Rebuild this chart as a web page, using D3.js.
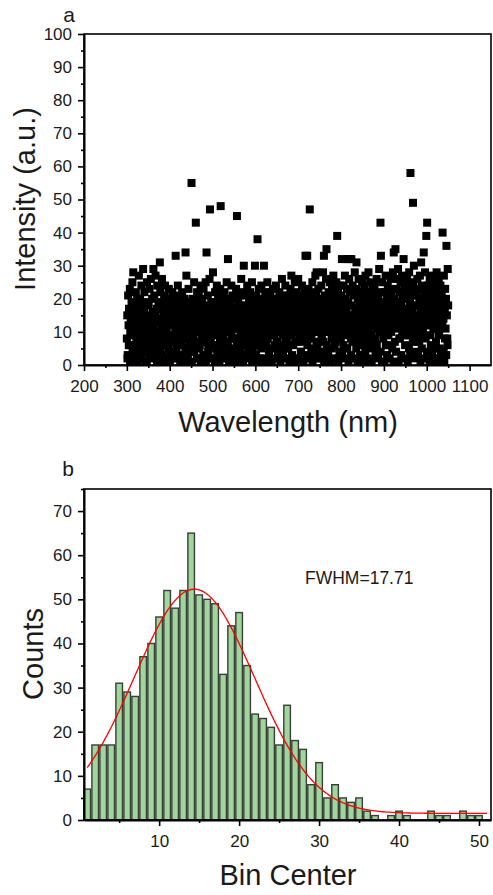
<!DOCTYPE html>
<html>
<head>
<meta charset="utf-8">
<script src="https://cdn.jsdelivr.net/npm/d3@7"></script>
<style>
body { margin: 0; background: #fff; }
text { font-family: Arial, "Liberation Sans", sans-serif; fill: #1a1a1a; }
</style>
</head>
<body>
<svg width="493" height="895"></svg>
<script>
// panel a: intensity sampled every 1 nm from 300 to 1050 nm
var intensity = [
  8,15,3,21,12,17,6,23,10,14,2,19,11,25,16,28,13,5,9,18,1,22,14,7,20,
  12,4,17,27,9,15,20,11,2,24,13,7,18,29,10,16,22,6,14,1,19,12,25,8,15,
  11,18,5,23,14,9,26,13,3,20,16,8,29,12,21,6,15,27,10,2,17,24,13,7,19,
  14,9,31,22,5,17,12,26,19,3,15,10,21,8,24,13,1,18,11,16,6,20,14,23,9,
  17,12,4,20,15,9,22,13,7,18,2,14,21,10,33,16,5,19,11,24,8,15,13,3,20,
  12,18,6,15,22,10,3,17,13,20,8,14,34,11,27,16,1,19,9,23,13,5,18,11,16,
  15,55,9,20,13,4,17,25,11,14,7,43,19,12,22,2,16,10,21,14,6,18,24,12,8,
  13,20,7,16,23,11,3,18,14,25,9,34,15,12,21,5,17,10,26,47,13,8,19,15,2,
  16,28,11,19,6,14,22,9,17,13,24,4,15,20,10,18,1,12,23,48,14,7,16,21,11,
  9,17,13,22,5,15,19,11,25,14,7,32,16,10,20,3,13,18,12,24,8,15,21,11,17,
  14,20,8,16,12,23,4,45,17,11,19,13,2,21,15,9,18,26,12,6,16,22,10,30,14,
  11,18,15,7,21,13,24,9,16,3,19,12,14,22,8,17,10,25,13,5,20,15,11,18,30,
  16,9,21,13,6,38,17,11,23,14,2,19,12,15,24,8,18,10,13,20,30,7,16,22,12,
  15,11,19,25,8,14,21,4,17,12,22,10,16,1,18,13,23,9,15,20,6,17,12,24,11,
  13,18,7,20,15,10,22,12,3,17,14,19,26,9,16,21,11,5,18,13,24,8,15,20,12,
  17,10,21,14,6,19,12,23,15,27,9,16,2,20,13,18,11,25,7,14,22,16,10,19,13,
  26,12,18,9,15,21,4,17,13,24,10,19,14,7,22,16,11,33,18,13,20,33,8,15,23,
  14,19,47,11,16,22,8,13,25,17,3,20,12,15,18,27,10,21,28,14,6,17,23,12,19,
  16,11,20,14,24,9,18,13,28,7,33,15,21,12,17,26,35,10,19,14,4,22,16,11,25,
  13,20,17,8,23,15,11,27,14,19,6,21,16,12,25,18,39,10,22,14,2,17,24,13,19,
  15,21,32,12,18,9,24,14,17,27,11,20,5,16,23,13,32,19,10,26,15,22,32,8,32,
  18,12,24,15,9,21,14,28,17,11,23,31,16,7,20,13,26,10,19,15,3,22,17,12,25,
  14,20,16,10,24,13,19,27,8,17,22,12,15,21,28,11,18,6,25,14,20,9,16,23,13,
  19,12,17,24,15,8,21,14,26,11,18,3,20,16,29,13,22,43,33,10,17,25,14,19,12,
  16,22,11,18,27,14,9,20,15,24,12,19,6,17,23,13,26,10,21,15,18,28,12,34,16,
  20,14,35,17,11,23,16,26,29,13,19,8,22,15,25,12,18,27,10,21,16,32,14,24,9,
  17,23,13,20,26,11,16,22,14,28,9,19,58,15,24,12,21,17,49,25,30,13,18,22,10,
  15,21,12,26,18,7,23,14,20,27,11,17,31,16,24,9,19,13,34,22,15,28,12,18,39,
  20,43,14,17,24,12,22,26,9,19,15,27,13,21,18,5,25,16,11,23,2,20,14,28,17,
  13,22,18,26,10,20,15,24,3,17,21,12,40,19,14,27,1,16,23,11,20,36,15,8,29,
  18
];
var wavelength = d3.range(300, 300 + intensity.length);

// extra readings, every 3 nm from 301.5 nm
var intensityB = [
  2,6,1,9,4,11,3,7,1,5,12,2,8,4,10,1,6,3,9,13,2,5,7,1,4,
  8,3,10,1,6,2,12,5,1,7,4,9,2,11,3,6,1,8,14,3,5,10,2,7,4,
  1,9,4,6,2,13,5,1,8,3,11,1,7,4,10,2,6,9,1,5,12,3,8,2,6,
  4,10,2,7,1,5,9,3,12,1,6,2,8,4,11,1,7,3,10,5,2,9,1,6,13,
  3,7,1,11,5,2,8,1,6,10,3,12,1,5,9,2,7,4,14,1,6,3,10,2,8,
  5,1,9,3,6,12,1,7,2,10,4,8,1,11,3,6,2,9,5,1,13,4,7,2,10,
  2,8,4,1,10,6,3,11,1,5,9,2,7,12,1,4,8,3,6,10,2,5,1,9,3,
  7,2,12,5,1,8,3,10,6,1,4,11,2,7,9,1,5,13,3,6,2,10,4,1,8,
  1,6,3,9,2,11,5,1,7,4,12,1,8,3,10,2,6,9,1,5,3,11,7,2,4,
  9,3,7,1,5,10,2,8,4,13,1,6,3,11,1,7,2,9,5,1,12,4,8,3,6
];
var wavelengthB = d3.range(301.5, 1050, 3);

var wlTicks = [200, 300, 400, 500, 600, 700, 800, 900, 1000, 1100];
var intTicks = [0, 10, 20, 30, 40, 50, 60, 70, 80, 90, 100];

// panel b: histogram of intensities
var binCenter = [1,2,3,4,5,6,7,8,9,10,11,12,13,14,15,16,17,18,19,20,21,22,23,24,25,
  26,27,28,29,30,31,32,33,34,35,36,37,38,39,40,41,42,43,44,45,46,47,48,49,50,51];
var counts = [7,17,17,17,31,29,28,37,40,46,52,48,52,65,51,50,49,33,44,47,35,24,23,21,17,
  26,18,16,8,13,5,8,5,4,5,2,1,0,1,2,1,0,0,2,1,1,0,2,1,1,0];
var binTicks = [10, 20, 30, 40, 50];
var countTicks = [0, 10, 20, 30, 40, 50, 60, 70];

// gaussian fit
var fitY0 = 1.5, fitXc = 14.4, fitA = 50.8, fitFWHM = 17.71;

var svg = d3.select("svg");

function frame(g, x, y, majX, majY, minX, minY) {
  var x0 = x.range()[0], x1 = x.range()[1], y0 = y.range()[0], y1 = y.range()[1];
  g.append("rect")
      .attr("x", x0).attr("y", y1)
      .attr("width", x1 - x0).attr("height", y0 - y1)
      .attr("fill", "none").attr("stroke", "#000").attr("stroke-width", 1.6);

  var ax = g.append("g").attr("transform", "translate(0," + y0 + ")")
      .call(d3.axisBottom(x).tickValues(majX).tickFormat(d3.format("d"))
        .tickSize(6).tickPadding(9).tickSizeOuter(0));
  var axm = g.append("g").attr("transform", "translate(0," + y0 + ")")
      .call(d3.axisBottom(x).tickValues(minX).tickSize(3).tickFormat(""));
  var ay = g.append("g").attr("transform", "translate(" + x0 + ",0)")
      .call(d3.axisLeft(y).tickValues(majY).tickFormat(d3.format("d"))
        .tickSize(6).tickPadding(6).tickSizeOuter(0));
  var aym = g.append("g").attr("transform", "translate(" + x0 + ",0)")
      .call(d3.axisLeft(y).tickValues(minY).tickSize(3).tickFormat(""));

  [ax, axm, ay, aym].forEach(function(a) {
    a.select(".domain").attr("stroke-width", 2);
    a.selectAll(".tick line").attr("stroke-width", 1.6);
    a.selectAll("text").style("font-size", "17px").attr("fill", "#1a1a1a");
  });
  axm.select(".domain").remove();
  aym.select(".domain").remove();
}

// ---- panel a ----
var xa = d3.scaleLinear().domain([200, 1150]).range([84, 491]);
var ya = d3.scaleLinear().domain([0, 100]).range([365, 34]);
var ga = svg.append("g");

var pts = intensity.map(function(v, i) { return [wavelength[i], v]; })
  .concat(intensityB.map(function(v, i) { return [wavelengthB[i], v]; }));

ga.selectAll("rect.pt")
  .data(pts)
  .enter().append("rect")
    .attr("class", "pt")
    .attr("x", function(d) { return xa(d[0]) - 4; })
    .attr("y", function(d) { return ya(d[1]) - 4; })
    .attr("width", 8).attr("height", 8)
    .attr("fill", "#000");

frame(ga, xa, ya, wlTicks, intTicks,
  [250, 350, 450, 550, 650, 750, 850, 950, 1050],
  [5, 15, 25, 35, 45, 55, 65, 75, 85, 95]);

ga.append("text").attr("x", 69).attr("y", 22)
    .attr("text-anchor", "middle").style("font-size", "21px").text("a");
ga.append("text")
    .attr("transform", "translate(35,199) rotate(-90)")
    .attr("text-anchor", "middle").style("font-size", "29px")
    .text("Intensity (a.u.)");
ga.append("text").attr("x", 288).attr("y", 432)
    .attr("text-anchor", "middle").style("font-size", "29px")
    .text("Wavelength (nm)");

// ---- panel b ----
var xb = d3.scaleLinear().domain([0.6, 51.5]).range([84, 491]);
var yb = d3.scaleLinear().domain([0, 75]).range([820, 489]);
var gb = svg.append("g");

var bins = binCenter.map(function(c, i) { return {c: c, n: counts[i]}; })
  .filter(function(d) { return d.n > 0; });

gb.selectAll("rect.bar")
  .data(bins)
  .enter().append("rect")
    .attr("class", "bar")
    .attr("x", function(d) { return xb(d.c - 0.5) + 0.7; })
    .attr("y", function(d) { return yb(d.n); })
    .attr("width", function(d) { return xb(d.c + 0.5) - xb(d.c - 0.5) - 1.4; })
    .attr("height", function(d) { return yb(0) - yb(d.n); })
    .attr("fill", "#9fd69b")
    .attr("stroke", "#3c3c3c")
    .attr("stroke-width", 1.4);

var sigma = fitFWHM / (2 * Math.sqrt(2 * Math.log(2)));
var fitX = d3.range(1, 51.01, 0.25);
var line = d3.line()
    .x(function(d) { return xb(d); })
    .y(function(d) { return yb(fitY0 + fitA * Math.exp(-(d - fitXc) * (d - fitXc) / (2 * sigma * sigma))); });
gb.append("path").datum(fitX)
    .attr("d", line)
    .attr("fill", "none").attr("stroke", "#ff0000").attr("stroke-width", 1.3);

frame(gb, xb, yb, binTicks, countTicks,
  [5, 15, 25, 35, 45],
  [5, 15, 25, 35, 45, 55, 65, 75]);

gb.append("text").attr("x", 305).attr("y", 584)
    .style("font-size", "17.5px").text("FWHM=17.71");
gb.append("text").attr("x", 68).attr("y", 476)
    .attr("text-anchor", "middle").style("font-size", "21px").text("b");
gb.append("text")
    .attr("transform", "translate(43,654) rotate(-90)")
    .attr("text-anchor", "middle").style("font-size", "29px")
    .text("Counts");
gb.append("text").attr("x", 288).attr("y", 885)
    .attr("text-anchor", "middle").style("font-size", "29px")
    .text("Bin Center");
</script>
</body>
</html>
